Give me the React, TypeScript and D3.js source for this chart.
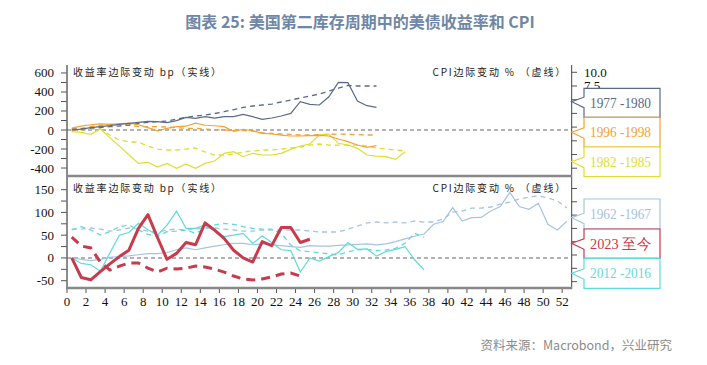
import * as d3 from 'd3';

// month index 0..52, points sit in the middle of each month slot
const slateYield = [0, 10, 25, 35, 46, 60, 70, 81, 91, 88, 77, 98, 133, 123, 140, 126, 140, 140, 165, 140, 113, 126, 147, 175, 298, 270, 263, 350, 502, 498, 305, 256, 239];
const slateCpi = [-0.35, -0.35, -0.2, -0.07, 0.07, 0.2, 0.38, 0.66, 0.88, 0.99, 1.11, 1.48, 1.79, 2.03, 2.2, 2.48, 2.81, 3.2, 3.58, 3.85, 4.03, 4.2, 4.58, 4.95, 5.3, 5.68, 6.04, 6.59, 7.1, 7.6, 7.5, 7.5, 7.5];
const orangeYield = [20, 40, 55, 65, 60, 65, 72, 55, 25, -8, 18, 35, 40, 72, 50, 45, 35, -15, 8, -8, -35, -42, -53, -63, -63, -60, -56, -63, -95, -123, -158, -182, -165];
const orangeCpi = [-0.66, -0.22, 0.07, 0.33, 0.51, 0.57, 0.38, 0.07, 0.07, 0.07, 0.01, -0.12, -0.22, -0.22, -0.35, -0.47, -0.53, -0.6, -0.66, -0.72, -1.02, -1.14, -1.26, -1.32, -1.44, -1.44, -1.38, -1.32, -1.26, -1.32, -1.38, -1.44, -1.44];
const yellowYield = [-18, -25, -45, 10, -80, -170, -260, -351, -340, -390, -351, -404, -358, -404, -351, -326, -245, -228, -281, -245, -263, -263, -246, -204, -168, -147, -50, -42, -140, -158, -193, -263, -274, -281, -309, -228];
const yellowCpi = [-0.53, -0.53, -0.35, -0.35, -1.44, -2.35, -2.72, -2.72, -3.45, -4.0, -4.18, -4.18, -4.0, -3.81, -4.54, -5.09, -5.09, -4.91, -4.54, -4.36, -4.18, -4.18, -4.0, -3.81, -3.63, -3.27, -3.08, -3.27, -3.27, -3.27, -3.27, -3.45, -3.81, -4.0, -4.18, -4.36];

const blueYield = [0, -3, -6, -3, 1.5, 3, 4.4, 7, 9.5, 9.5, 12, 18, 22, 18, 22, 26, 29, 32, 32, 29, 31, 28.6, 27, 25, 23.4, 27, 26, 26, 27.5, 28.6, 30, 31, 28.6, 31, 36, 41.8, 47.6, 52.7, 74, 80, 110.5, 81, 88.6, 89, 103, 113, 144, 113, 107, 120, 74, 61.5, 81];
const blueCpi = [0.95, 0.95, 1.03, 0.95, 0.8, 0.88, 1.03, 0.95, 0.8, 0.73, 0.88, 0.95, 0.88, 0.95, 1.03, 1.03, 0.95, 0.88, 0.8, 0.8, 0.88, 0.88, 0.88, 0.88, 0.88, 0.8, 0.73, 0.73, 0.73, 0.95, 1.18, 1.41, 1.48, 1.41, 1.48, 1.41, 1.56, 1.48, 1.48, 1.71, 2.23, 2.3, 2.53, 2.53, 2.61, 2.83, 2.98, 3.21, 3.36, 3.44, 3.29, 3.06, 2.53];
const redYield = [0, -43, -48, -30, -13, 3, 17, 65, 95, 45, -3, 10, 34, 29, 77, 61, 43, 17, 0, -9, 36, 27, 67, 67, 34, 41];
const redCpi = [0.35, -0.32, -0.47, -1.53, -2.13, -1.83, -1.6, -1.6, -1.99, -2.28, -1.99, -2.06, -1.99, -1.83, -1.9, -2.06, -2.28, -2.58, -2.8, -2.88, -2.8, -2.65, -2.43, -2.35, -2.58];
const cyanYield = [0, -12, -15, -29, 11, 50, 56, 76, 62, 50, 72, 103, 65, 65, 72, 59, 47, 50, 54, 32, 48, 34, 18, 16, -31, 0, -7, 3, 12, 34, 19, 20, 4, 14, 19, 25, -4, -26];
const cyanCpi = [0.88, 1.13, 0.88, 0.5, 0.75, 1.13, 1.26, 0.88, 0.56, 0.38, 0.75, 0.8, 0.88, 0.63, 1.0, 1.26, 1.38, 1.3, 1.13, 1.0, 0.95, 0.95, 0.63, -0.25, -0.68, -0.75, -0.83, -0.92, -1.0, -0.75, -0.62, -0.57, -0.68, -0.62, -0.5, -0.12, 0.63, 0.33];

const topLegend = [
  { label: '1977 -1980', color: '#5b6a88' },
  { label: '1996 -1998', color: '#f5a232' },
  { label: '1982 -1985', color: '#dede30' },
];
const bottomLegend = [
  { label: '1962 -1967', color: '#a6c4e2' },
  { label: '2023 至今', color: '#c83a4c' },
  { label: '2012 -2016', color: '#5fdbd9' },
];

const xTicks = d3.range(0, 53, 2);
const topLeftTicks = d3.range(-400, 601, 100);
const topRightTicks = d3.range(-7.5, 10.1, 2.5);
const topRightLabels = [10, 7.5]; // the rest sit under the legend boxes
const botLeftTicks = d3.range(-50, 151, 25);
const botRightTicks = d3.range(-3, 5, 1);

const x = d3.scaleLinear().domain([0, 53]).range([67, 571.7]);
const yTL = d3.scaleLinear().domain([-484, 684]).range([176, 65]);
const yTR = d3.scaleLinear().domain([-8.92, 11.33]).range([176, 65]);
const yBL = d3.scaleLinear().domain([-66, 180]).range([288, 176]);
const yBR = d3.scaleLinear().domain([-3.48, 4.94]).range([288, 176]);

const path = (vals: number[], y: d3.ScaleLinear<number, number>) =>
  d3.line<number>().x((_, i) => x(i + 0.5)).y(v => y(v))(vals) || '';

const cjk = '"Noto Sans CJK SC", sans-serif';
const serif = '"Liberation Serif", "DejaVu Serif", serif';

const Legend = ({ items, tops, tips }: { items: { label: string; color: string }[]; tops: number[]; tips: number[] }) => (
  <g>
    {items.map((it, i) => {
      const t = tops[i];
      const b = tops[i + 1];
      const ty = tips[i];
      const l = 584, r = 660, tipX = 571.7;
      const d = `M${l},${t} L${r},${t} L${r},${b} L${l},${b} L${l},${ty + 6} L${tipX},${ty} L${l},${ty - 4.5} Z`;
      return (
        <g key={it.label}>
          <path d={d} fill="#fff" stroke={it.color} strokeWidth={1.2} />
          <text x={590} y={(t + b) / 2 + 5} fill={it.color} fontSize={15} fontFamily={serif}
            textLength={61} lengthAdjust="spacingAndGlyphs">{it.label}</text>
        </g>
      );
    })}
  </g>
);

export default function App() {
  return (
    <svg width={707} height={365} style={{ position: 'absolute', left: 0, top: 0, background: '#fff' }}>
      <text x={360} y={28} textAnchor="middle" fill="#6f86a6" fontSize={16} fontWeight={700} fontFamily={cjk}>
        图表 25: 美国第二库存周期中的美债收益率和 CPI
      </text>

      {/* zero lines */}
      <line x1={67} x2={571.7} y1={yTL(0)} y2={yTL(0)} stroke="#999" strokeWidth={1.5} strokeDasharray="4,3" />
      <line x1={67} x2={571.7} y1={yBL(0)} y2={yBL(0)} stroke="#999" strokeWidth={1.5} strokeDasharray="4,3" />

      {/* top panel series */}
      <g fill="none">
        <path d={path(yellowCpi, yTR)} stroke="#dede30" strokeWidth={1.3} strokeDasharray="5,4" />
        <path d={path(orangeCpi, yTR)} stroke="#f5a232" strokeWidth={1.3} strokeDasharray="5,4" />
        <path d={path(slateCpi, yTR)} stroke="#5b6a88" strokeWidth={1.3} strokeDasharray="5,4" />
        <path d={path(yellowYield, yTL)} stroke="#dede30" strokeWidth={1.2} />
        <path d={path(orangeYield, yTL)} stroke="#f5a232" strokeWidth={1.2} />
        <path d={path(slateYield, yTL)} stroke="#5b6a88" strokeWidth={1.2} />
      </g>

      {/* bottom panel series */}
      <g fill="none">
        <path d={path(blueCpi, yBR)} stroke="#a6c4e2" strokeWidth={1.3} strokeDasharray="5,4" />
        <path d={path(cyanCpi, yBR)} stroke="#5fdbd9" strokeWidth={1.3} strokeDasharray="5,4" />
        <path d={path(blueYield, yBL)} stroke="#a6c4e2" strokeWidth={1.2} />
        <path d={path(cyanYield, yBL)} stroke="#5fdbd9" strokeWidth={1.2} />
        <path d={path(redCpi, yBR)} stroke="#c83a4c" strokeWidth={3} strokeDasharray="9,6" />
        <path d={path(redYield, yBL)} stroke="#c83a4c" strokeWidth={3} strokeLinejoin="round" />
      </g>

      {/* axis titles */}
      <g fontFamily={cjk} fontSize={10} fill="#222" style={{ letterSpacing: '1.8px' }}>
        <text x={73} y={75.5}>收益率边际变动 bp（实线）</text>
        <text x={567} y={75.5} textAnchor="end">CPI边际变动 % （虚线）</text>
        <text x={73} y={191.5}>收益率边际变动 bp（实线）</text>
        <text x={567} y={191.5} textAnchor="end">CPI边际变动 % （虚线）</text>
      </g>

      {/* axes */}
      <g fontFamily={serif} fontSize={13} fill="#111">
        {topLeftTicks.map(t => (
          <g key={'tl' + t}>
            <line x1={61} x2={67} y1={yTL(t)} y2={yTL(t)} stroke="#555" />
            {t % 200 === 0 && <text x={54} y={yTL(t) + 4.5} textAnchor="end">{String(t)}</text>}
          </g>
        ))}
        {botLeftTicks.map(t => (
          <g key={'bl' + t}>
            <line x1={61} x2={67} y1={yBL(t)} y2={yBL(t)} stroke="#555" />
            {t % 50 === 0 && <text x={54} y={yBL(t) + 4.5} textAnchor="end">{String(t)}</text>}
          </g>
        ))}
        {topRightTicks.map(t => (
          <line key={'tr' + t} x1={571.7} x2={577} y1={yTR(t)} y2={yTR(t)} stroke="#555" />
        ))}
        {topRightLabels.map(t => (
          <text key={'trl' + t} x={584} y={yTR(t) + 4.5}>{t.toFixed(1)}</text>
        ))}
        {botRightTicks.map(t => (
          <line key={'br' + t} x1={571.7} x2={577} y1={yBR(t)} y2={yBR(t)} stroke="#555" />
        ))}
        {xTicks.map(t => (
          <g key={'x' + t}>
            <line x1={x(t)} x2={x(t)} y1={288} y2={293} stroke="#555" />
            <text x={x(t)} y={306} textAnchor="middle">{String(t)}</text>
          </g>
        ))}
      </g>

      {/* frame lines */}
      <line x1={67} x2={67} y1={65} y2={289} stroke="#666" strokeWidth={1.5} />
      <line x1={571.7} x2={571.7} y1={65} y2={289} stroke="#444" strokeWidth={1} />
      <line x1={66} x2={572} y1={176} y2={176} stroke="#888" strokeWidth={2.5} />
      <line x1={66} x2={572} y1={288} y2={288} stroke="#888" strokeWidth={2.5} />

      <Legend items={topLegend} tops={[88.3, 117.3, 147, 176.7]} tips={[101.7, 132.3, 161.7]} />
      <Legend items={bottomLegend} tops={[199, 229, 258.3, 288.3]} tips={[217.7, 243.3, 273.3]} />

      <text x={672} y={349.5} textAnchor="end" fill="#8c8c8c" fontSize={12.5} fontFamily={cjk}>
        资料来源：Macrobond，兴业研究
      </text>
    </svg>
  );
}
